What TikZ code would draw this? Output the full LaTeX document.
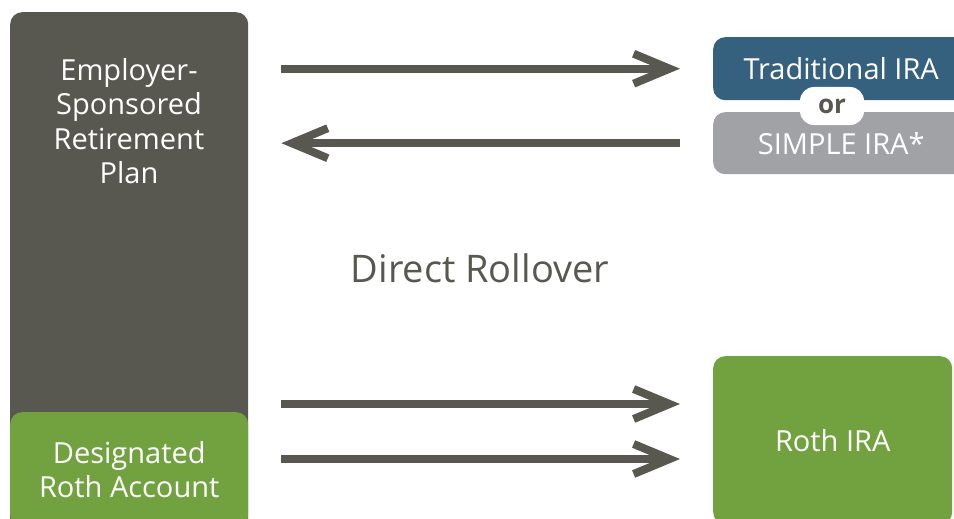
\documentclass[tikz,border=0pt]{standalone}
\usepackage{fontspec}
\setmainfont{Open Sans}
\usepackage{tikz}
\usetikzlibrary{positioning, arrows.meta}
\definecolor{plangray}{RGB}{88,88,80}
\definecolor{tradblue}{RGB}{53,96,126}
\definecolor{simplegray}{RGB}{161,162,166}
\definecolor{rothgreen}{RGB}{114,162,64}
\tikzset{box/.style={
          rectangle,
          rounded corners=12pt,
          text=white,
          align=center,
          inner sep=0pt,
          anchor=north west
     }}
\tikzset{pill/.style={
          rectangle,
          rounded corners=14pt,
          fill=white,
          text=plangray,
          minimum width=64pt,
          minimum height=38pt,
          font=\bfseries\fontsize{26}{30}\selectfont
     }}
\tikzstyle{arrow} = [line width=8pt, plangray, shorten <=33pt, shorten >=33pt, -{Straight Barb[length=36pt, width=30pt]}]

\begin{document}
\begin{tikzpicture}[x=1pt, y=-1pt, font=\fontsize{29}{34.5}\selectfont]
\clip (0,0) rectangle (954,519);

\node (plan) [box, fill=plangray, minimum width=238pt, minimum height=530pt] at (10,12) {};
\node (plantext) [text=white, align=center, inner sep=0pt] at (129,121) {Employer-\\Sponsored\\Retirement\\Plan};
\node (rothacct) [box, fill=rothgreen, minimum width=238pt, minimum height=115pt] at (10,412) {Designated\\Roth Account};

\node (trad) [box, fill=tradblue, minimum width=256pt, minimum height=63pt] at (713,37) {Traditional IRA};
\node (simple) [box, fill=simplegray, minimum width=256pt, minimum height=62pt] at (713,112) {SIMPLE IRA*};
\node (or) [pill] at (832,106) {or};
\node (roth) [box, fill=rothgreen, minimum width=239pt, minimum height=168pt] at (713,356) {Roth IRA};

\node (direct) [text=plangray, font=\fontsize{38}{44}\selectfont] at (480,268) {Direct Rollover};

\coordinate (upper) at (0,404);
\coordinate (lower) at (0,459);

\draw [arrow] (plan.east |- trad) -- (trad.west);
\draw [arrow] (simple.west) -- (plan.east |- simple);
\draw [arrow] (plan.east |- upper) -- (roth.west |- upper);
\draw [arrow] (plan.east |- lower) -- (roth.west |- lower);
\end{tikzpicture}
\end{document}
